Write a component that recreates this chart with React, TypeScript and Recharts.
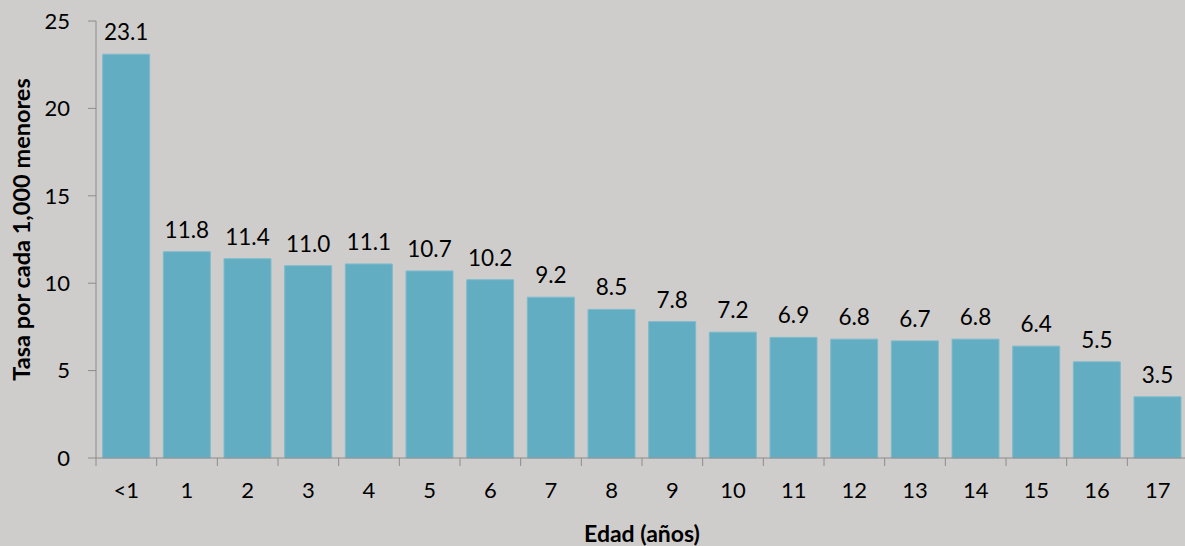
import { BarChart, Bar, XAxis, YAxis, LabelList } from 'recharts';

const edades = ['<1', '1', '2', '3', '4', '5', '6', '7', '8', '9', '10', '11', '12', '13', '14', '15', '16', '17'];
const tasas = [23.1, 11.8, 11.4, 11.0, 11.1, 10.7, 10.2, 9.2, 8.5, 7.8, 7.2, 6.9, 6.8, 6.7, 6.8, 6.4, 5.5, 3.5];
const yTicks = [0, 5, 10, 15, 20, 25];

const data = edades.map((edad, i) => ({ edad, tasa: tasas[i] }));

const font = 'Lato, "Open Sans", sans-serif';
const axisColor = '#8c8c8c';
const TICK_GAP = 24;

// label under each category plus the small tick marks on the category boundaries
function EdadTick(props: any) {
  const { x, y, payload, index } = props;
  const half = payload?.offset ?? 30.3;
  const top = y - TICK_GAP;
  return (
    <g>
      <line x1={x - half} x2={x - half} y1={top} y2={top + 8} stroke={axisColor} />
      {index === edades.length - 1 && (
        <line x1={x + half} x2={x + half} y1={top} y2={top + 8} stroke={axisColor} />
      )}
      <text x={x} y={y} dy="0.71em" textAnchor="middle" fill="#000" fontSize={22} fontFamily={font}>
        {payload.value}
      </text>
    </g>
  );
}

export default function App() {
  return (
    <div style={{ position: 'absolute', left: 0, top: 0, width: 1185, height: 546, overflow: 'hidden', background: '#cfcdcb' }}>
      <BarChart width={1188} height={546} data={data} margin={{ top: 21, right: 0, bottom: 0, left: 0 }} barCategoryGap="11%">
        <XAxis
          dataKey="edad"
          tickLine={false}
          tickSize={0}
          tickMargin={TICK_GAP}
          axisLine={{ stroke: axisColor }}
          tick={<EdadTick />}
          height={88}
          interval={0}
          label={{ value: 'Edad (años)', position: 'insideBottom', offset: 4, fill: '#000', fontSize: 23, fontWeight: 700, fontFamily: font }}
        />
        <YAxis
          domain={[0, 25]}
          ticks={yTicks}
          width={96}
          tickSize={8}
          tickMargin={18}
          axisLine={{ stroke: axisColor }}
          tickLine={{ stroke: axisColor }}
          tick={{ fill: '#000', fontSize: 22, fontFamily: font }}
          label={({ viewBox }: any) => (
            <text
              x={21}
              y={viewBox.y + viewBox.height / 2 - 10}
              transform={`rotate(-90, 21, ${viewBox.y + viewBox.height / 2 - 10})`}
              textAnchor="middle"
              dominantBaseline="central"
              fill="#000"
              fontSize={23.5}
              fontWeight={700}
              fontFamily={font}
            >
              Tasa por cada 1,000 menores
            </text>
          )}
        />
        <Bar dataKey="tasa" fill="#62adc2" stroke="#7dbbcd" strokeWidth={1} isAnimationActive={false}>
          <LabelList
            dataKey="tasa"
            position="top"
            offset={14}
            formatter={(v: any) => Number(v).toFixed(1)}
            style={{ fill: '#000', fontSize: 22.5, fontFamily: font }}
          />
        </Bar>
      </BarChart>
    </div>
  );
}
